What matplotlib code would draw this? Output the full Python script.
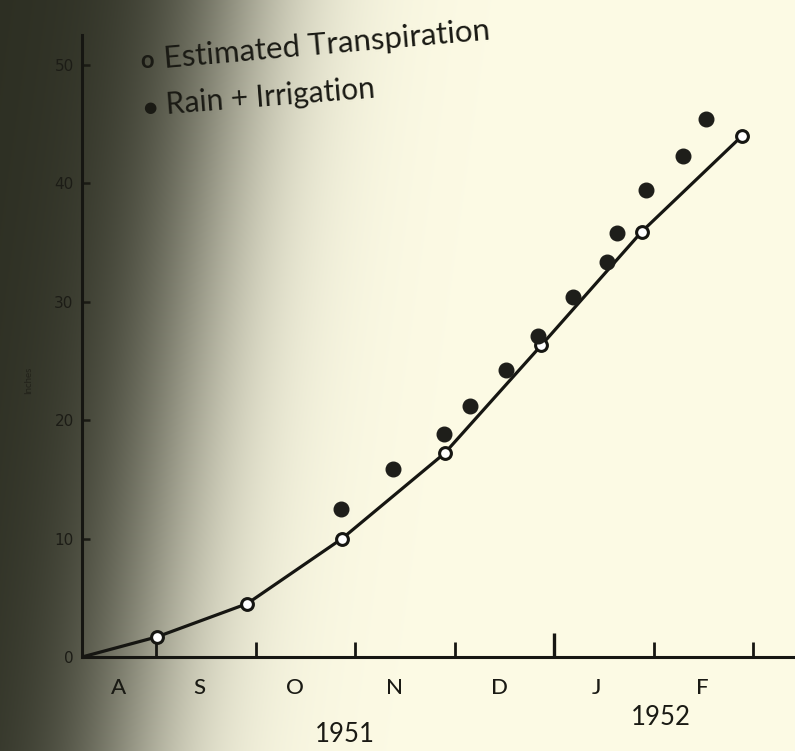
import numpy as np
import matplotlib
matplotlib.use("Agg")
import matplotlib.pyplot as plt
import matplotlib.transforms as mtransforms

# ---------------- data (x in months; 1 = start of Sep 1951) ----------------
origin_x = 0.256
transp_x = [1.01, 1.915, 2.87, 3.90, 4.87, 5.88, 6.89]
transp_y = [1.7, 4.5, 10.0, 17.2, 26.3, 35.9, 44.0]

rain_x = [2.86, 3.38, 3.89, 4.15, 4.52, 4.84, 5.19, 5.53, 5.63, 5.92, 6.29, 6.53]
rain_y = [12.5, 15.9, 18.8, 21.2, 24.2, 27.1, 30.4, 33.3, 35.8, 39.4, 42.3, 45.4]

month_ticks = [1, 2, 3, 4, 5, 6, 7]
month_labels = ["A", "S", "O", "N", "D", "J", "F"]
month_label_x = [0.62, 1.44, 2.40, 3.40, 4.45, 5.43, 6.49]
year_labels = ["1951", "1952"]
year_label_x = [2.90, 6.07]
y_ticks = [0, 10, 20, 30, 40, 50]

legend_labels = ["Estimated Transpiration", "Rain + Irrigation"]

# ---------------- figure ----------------
W, H = 795, 751
fig = plt.figure(figsize=(W / 100, H / 100), dpi=100)

# scanned-page background: dark olive shadow on the left fading to cream
bg = fig.add_axes([0, 0, 1, 1], zorder=-10)
yy, xx = np.mgrid[0:H, 0:W]
center = 235 - 0.14 * yy
w = 1.0 / (1.0 + np.exp((xx - center) / 48.0))
dark = np.array([44, 46, 34]) / 255.0
cream = np.array([253, 251, 229]) / 255.0
img = cream[None, None, :] * (1 - w[..., None]) + dark[None, None, :] * w[..., None]
bg.imshow(img, extent=[0, W, H, 0], aspect="auto")
bg.set_axis_off()

ax = fig.add_axes([82 / W, 1 - 657 / H, 713 / W, 622 / H])
ax.set_facecolor("none")
ax.set_xlim(origin_x, 7.42)
ax.set_ylim(0, 52.5)

ink = "#161612"
lx = [origin_x] + transp_x
ly = [0] + transp_y
ax.plot(lx, ly, color=ink, lw=2.3, zorder=3, solid_capstyle="round")
ax.plot(transp_x, transp_y, ls="none", marker="o", ms=8.5, mfc="white",
        mec=ink, mew=2.2, zorder=4, clip_on=False)
ax.plot(rain_x, rain_y, ls="none", marker="o", ms=10.5, mfc="#1e1e1a",
        mec="#1e1e1a", zorder=4, clip_on=False)

for side in ["top", "right"]:
    ax.spines[side].set_visible(False)
for side in ["left", "bottom"]:
    ax.spines[side].set_linewidth(2.2)
    ax.spines[side].set_color(ink)

major = [t for t in month_ticks if t != 5]
ax.set_xticks(major)
ax.set_xticks([5], minor=True)
ax.tick_params(axis="x", which="major", direction="in", length=11, width=2, labelbottom=False, color=ink)
ax.tick_params(axis="x", which="minor", direction="in", length=17, width=2.4, labelbottom=False, color=ink)

ax.set_yticks(y_ticks)
ax.set_yticklabels([str(v) for v in y_ticks])
ax.tick_params(axis="y", direction="in", length=6, width=1.8, color="#1a1a14",
               labelsize=11, labelcolor="#1c1c16", pad=6)

font = "Lato"
trans = mtransforms.blended_transform_factory(ax.transData, ax.transAxes)
for lab, xp in zip(month_labels, month_label_x):
    ax.text(xp, -0.05, lab, transform=trans, ha="center", va="center",
            fontsize=16, color="#1a1a14", family=font, fontweight="medium")
for lab, xp, yo in zip(year_labels, year_label_x, [-0.124, -0.098]):
    ax.text(xp, yo, lab, transform=trans, ha="center", va="center",
            fontsize=18.5, color="#1a1a14", family=font)

ax.text(-0.075, 0.445, "Inches", transform=ax.transAxes, rotation=90,
        ha="center", va="center", fontsize=7, color="#22221a", family=font)

# legend (hand-lettered, slightly tilted)
fig.text(147 / W, 1 - 60 / H, "o", fontsize=17, ha="center", va="center",
         color="#1a1a14", family=font, fontweight="bold")
fig.text(150 / W, 1 - 107 / H, "\u25CF", fontsize=11, ha="center", va="center",
         color="#1a1a14", family="DejaVu Sans")
fig.text(165 / W, 1 - 68 / H, legend_labels[0], fontsize=22.5, ha="left",
         va="baseline", rotation=5, rotation_mode="anchor", color="#1a1a14", family=font)
fig.text(167 / W, 1 - 114 / H, legend_labels[1], fontsize=21.5, ha="left",
         va="baseline", rotation=4.5, rotation_mode="anchor", color="#1a1a14", family=font)

fig.savefig("out.png", dpi=100)
